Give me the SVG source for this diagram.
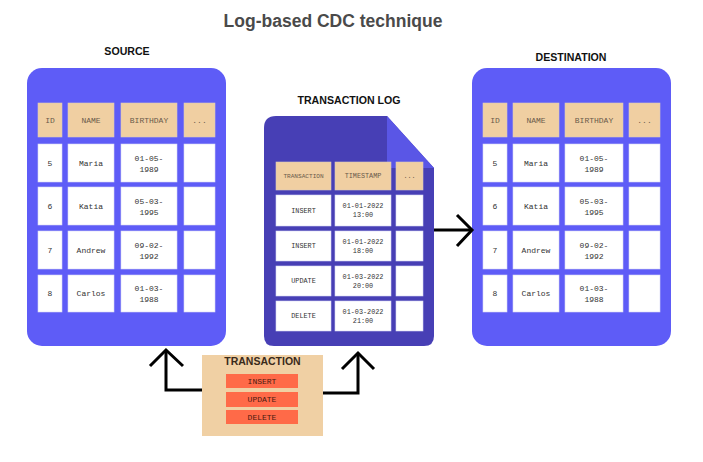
<svg xmlns="http://www.w3.org/2000/svg" width="703" height="462" viewBox="0 0 703 462">
<defs>
<style>
.title{font-family:"Liberation Sans",Arial,sans-serif;font-weight:900;fill:#4a4a4a;font-size:17.5px;text-anchor:middle}
.lbl{font-family:"Liberation Sans",Arial,sans-serif;font-weight:bold;fill:#111;font-size:10.6px;text-anchor:middle}
.panel{fill:#5e5cf7}
.hd{fill:#f0cfa2;stroke:#d9c9c0;stroke-width:0.6}
.cell{fill:#ffffff;stroke:#d8d8f4;stroke-width:0.6}
.m{font-family:"Liberation Mono","DejaVu Sans Mono",monospace;font-size:8px;fill:#333;text-anchor:middle;dominant-baseline:central}
.mh{font-family:"Liberation Mono","DejaVu Sans Mono",monospace;font-size:8px;fill:#6a5a4a;text-anchor:middle;dominant-baseline:central}
.s{font-family:"Liberation Mono","DejaVu Sans Mono",monospace;font-size:6.8px;fill:#333;text-anchor:middle;dominant-baseline:central}
.sh{font-family:"Liberation Mono","DejaVu Sans Mono",monospace;font-size:6.8px;fill:#6a5a4a;text-anchor:middle;dominant-baseline:central}
.btn{fill:#ff6a48}
.bt{font-family:"Liberation Mono","DejaVu Sans Mono",monospace;font-size:8px;fill:#4a1a10;text-anchor:middle;dominant-baseline:central}
.ar{fill:none;stroke:#000;stroke-width:3;stroke-linejoin:miter;stroke-linecap:butt}
</style>
</defs>
<rect width="703" height="462" fill="#ffffff"/>
<text class="title" x="333" y="27">Log-based CDC technique</text>

<g id="source">
<text class="lbl" x="127" y="55">SOURCE</text>
<rect class="panel" x="27" y="68" width="199" height="278" rx="15"/>
<rect class="hd" x="38" y="103" width="24" height="34"/><text class="mh" x="50" y="120">ID</text>
<rect class="hd" x="68" y="103" width="46" height="34"/><text class="mh" x="91" y="120">NAME</text>
<rect class="hd" x="121" y="103" width="56" height="34"/><text class="mh" x="149" y="120">BIRTHDAY</text>
<rect class="hd" x="184" y="103" width="31" height="34"/><text class="mh" x="199.5" y="120">...</text>
<g>
<rect class="cell" x="38" y="144" width="24" height="38"/><text class="m" x="50" y="163">5</text>
<rect class="cell" x="68" y="144" width="46" height="38"/><text class="m" x="91" y="163">Maria</text>
<rect class="cell" x="121" y="144" width="56" height="38"/><text class="m" x="149" y="158">01-05-</text><text class="m" x="149" y="169">1989</text>
<rect class="cell" x="184" y="144" width="31" height="38"/>
</g>
<g>
<rect class="cell" x="38" y="187" width="24" height="38"/><text class="m" x="50" y="206">6</text>
<rect class="cell" x="68" y="187" width="46" height="38"/><text class="m" x="91" y="206">Katia</text>
<rect class="cell" x="121" y="187" width="56" height="38"/><text class="m" x="149" y="201">05-03-</text><text class="m" x="149" y="212">1995</text>
<rect class="cell" x="184" y="187" width="31" height="38"/>
</g>
<g>
<rect class="cell" x="38" y="231" width="24" height="38"/><text class="m" x="50" y="250">7</text>
<rect class="cell" x="68" y="231" width="46" height="38"/><text class="m" x="91" y="250">Andrew</text>
<rect class="cell" x="121" y="231" width="56" height="38"/><text class="m" x="149" y="245">09-02-</text><text class="m" x="149" y="256">1992</text>
<rect class="cell" x="184" y="231" width="31" height="38"/>
</g>
<g>
<rect class="cell" x="38" y="275" width="24" height="37"/><text class="m" x="50" y="293.5">8</text>
<rect class="cell" x="68" y="275" width="46" height="37"/><text class="m" x="91" y="293.5">Carlos</text>
<rect class="cell" x="121" y="275" width="56" height="37"/><text class="m" x="149" y="288">01-03-</text><text class="m" x="149" y="299">1988</text>
<rect class="cell" x="184" y="275" width="31" height="37"/>
</g>
</g>

<g id="destination">
<text class="lbl" x="571" y="61">DESTINATION</text>
<rect class="panel" x="472" y="68" width="199" height="278" rx="15"/>
<rect class="hd" x="483" y="103" width="24" height="34"/><text class="mh" x="495" y="120">ID</text>
<rect class="hd" x="513" y="103" width="46" height="34"/><text class="mh" x="536" y="120">NAME</text>
<rect class="hd" x="565" y="103" width="58" height="34"/><text class="mh" x="594" y="120">BIRTHDAY</text>
<rect class="hd" x="629" y="103" width="31" height="34"/><text class="mh" x="644.5" y="120">...</text>
<g>
<rect class="cell" x="483" y="144" width="24" height="38"/><text class="m" x="495" y="163">5</text>
<rect class="cell" x="513" y="144" width="46" height="38"/><text class="m" x="536" y="163">Maria</text>
<rect class="cell" x="565" y="144" width="58" height="38"/><text class="m" x="594" y="158">01-05-</text><text class="m" x="594" y="169">1989</text>
<rect class="cell" x="629" y="144" width="31" height="38"/>
</g>
<g>
<rect class="cell" x="483" y="187" width="24" height="38"/><text class="m" x="495" y="206">6</text>
<rect class="cell" x="513" y="187" width="46" height="38"/><text class="m" x="536" y="206">Katia</text>
<rect class="cell" x="565" y="187" width="58" height="38"/><text class="m" x="594" y="201">05-03-</text><text class="m" x="594" y="212">1995</text>
<rect class="cell" x="629" y="187" width="31" height="38"/>
</g>
<g>
<rect class="cell" x="483" y="231" width="24" height="38"/><text class="m" x="495" y="250">7</text>
<rect class="cell" x="513" y="231" width="46" height="38"/><text class="m" x="536" y="250">Andrew</text>
<rect class="cell" x="565" y="231" width="58" height="38"/><text class="m" x="594" y="245">09-02-</text><text class="m" x="594" y="256">1992</text>
<rect class="cell" x="629" y="231" width="31" height="38"/>
</g>
<g>
<rect class="cell" x="483" y="275" width="24" height="37"/><text class="m" x="495" y="293.5">8</text>
<rect class="cell" x="513" y="275" width="46" height="37"/><text class="m" x="536" y="293.5">Carlos</text>
<rect class="cell" x="565" y="275" width="58" height="37"/><text class="m" x="594" y="288">01-03-</text><text class="m" x="594" y="299">1988</text>
<rect class="cell" x="629" y="275" width="31" height="37"/>
</g>
</g>

<g id="transaction-log">
<text class="lbl" x="349" y="104">TRANSACTION LOG</text>
<path d="M276,116 L387,116 L434,168 L434,336 Q434,346 424,346 L274,346 Q264,346 264,336 L264,128 Q264,116 276,116 Z" fill="#473fb5"/>
<path d="M387,116 L387,168 L434,168 Z" fill="#5a56e6"/>
<rect class="hd" x="276" y="162" width="55" height="28"/><text class="sh" x="303.5" y="176" style="font-size:6.1px">TRANSACTION</text>
<rect class="hd" x="335" y="162" width="56" height="28"/><text class="sh" x="363" y="176">TIMESTAMP</text>
<rect class="hd" x="396" y="162" width="27" height="28"/><text class="sh" x="409.5" y="176">...</text>
<g>
<rect class="cell" x="276" y="195" width="55" height="31"/><text class="s" x="303.5" y="210.5">INSERT</text>
<rect class="cell" x="335" y="195" width="56" height="31"/><text class="s" x="363" y="206">01-01-2022</text><text class="s" x="363" y="215">13:00</text>
<rect class="cell" x="396" y="195" width="27" height="31"/>
</g>
<g>
<rect class="cell" x="276" y="231" width="55" height="30"/><text class="s" x="303.5" y="246">INSERT</text>
<rect class="cell" x="335" y="231" width="56" height="30"/><text class="s" x="363" y="241.5">01-01-2022</text><text class="s" x="363" y="250.5">18:00</text>
<rect class="cell" x="396" y="231" width="27" height="30"/>
</g>
<g>
<rect class="cell" x="276" y="266" width="55" height="30"/><text class="s" x="303.5" y="281">UPDATE</text>
<rect class="cell" x="335" y="266" width="56" height="30"/><text class="s" x="363" y="276.5">01-03-2022</text><text class="s" x="363" y="285.5">20:00</text>
<rect class="cell" x="396" y="266" width="27" height="30"/>
</g>
<g>
<rect class="cell" x="276" y="301" width="55" height="30"/><text class="s" x="303.5" y="316">DELETE</text>
<rect class="cell" x="335" y="301" width="56" height="30"/><text class="s" x="363" y="311.5">01-03-2022</text><text class="s" x="363" y="320.5">21:00</text>
<rect class="cell" x="396" y="301" width="27" height="30"/>
</g>
</g>

<g id="transaction">
<rect x="202" y="355" width="121" height="81" fill="#f0d0a4"/>
<text class="lbl" x="262.5" y="365" style="fill:#3a2a1a;font-size:10.5px">TRANSACTION</text>
<rect class="btn" x="226" y="374" width="72" height="14"/><text class="bt" x="262" y="381">INSERT</text>
<rect class="btn" x="226" y="392" width="72" height="15"/><text class="bt" x="262" y="399.5">UPDATE</text>
<rect class="btn" x="226" y="410" width="72" height="14"/><text class="bt" x="262" y="417">DELETE</text>
</g>

<g id="connectors">
<path class="ar" d="M434,230 L472,230"/>
<path class="ar" d="M457,215 L472,230 L457,246"/>
<path class="ar" d="M202,390 L166,390 L166,351"/>
<path class="ar" d="M150,366 L166,350 L183,366"/>
<path class="ar" d="M323,393 L358,393 L358,354"/>
<path class="ar" d="M342,369 L358,353 L374,369"/>
</g>
</svg>
